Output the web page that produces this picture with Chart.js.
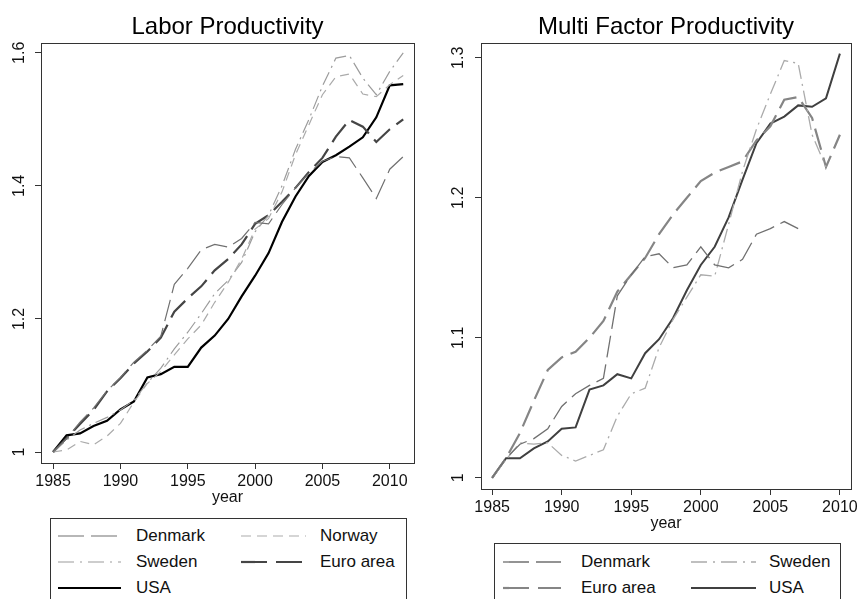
<!DOCTYPE html>
<html>
<head>
<meta charset="utf-8">
<script src="https://cdn.jsdelivr.net/npm/chart.js@4"></script>
<style>
  body { margin: 0; width: 861px; height: 599px; overflow: hidden; background: #fff; font-family: "Liberation Sans", Arial, sans-serif; }
  .wrap { position: absolute; top: 0; }
  .legend { position: absolute; border: 1px solid #333; height: 120px; background: #fff; }
  .item { position: absolute; height: 20px; }
  .item svg { position: absolute; top: 0; }
  .item span { position: absolute; top: 0; line-height: 20px; font-size: 17px; color: #111; white-space: nowrap; }
</style>
</head>
<body>
<div class="wrap" style="left:0;width:430px;height:512px;"><canvas id="labor" width="430" height="512"></canvas></div>
<div class="wrap" style="left:430px;width:431px;height:538px;"><canvas id="mfp" width="431" height="538"></canvas></div>
<div class="legend" id="legend-labor" style="left:50px;top:518px;width:355px;"></div>
<div class="legend" id="legend-mfp" style="left:494px;top:543px;width:345px;"></div>
<script>
// ---- data ----
const yearsLabor = [1985, 1986, 1987, 1988, 1989, 1990, 1991, 1992, 1993, 1994, 1995, 1996, 1997, 1998,
    1999, 2000, 2001, 2002, 2003, 2004, 2005, 2006, 2007, 2008, 2009, 2010, 2011];
const laborDenmark = [1.000, 1.020, 1.045, 1.066, 1.092, 1.112, 1.135, 1.153, 1.174, 1.252, 1.276, 1.304, 1.312, 1.308,
    1.321, 1.345, 1.343, 1.372, 1.397, 1.419, 1.437, 1.444, 1.442, 1.412, 1.381, 1.425, 1.444];
const laborNorway = [1.000, 1.003, 1.016, 1.011, 1.024, 1.043, 1.075, 1.103, 1.121, 1.146, 1.170, 1.191, 1.225, 1.255,
    1.290, 1.335, 1.351, 1.391, 1.447, 1.492, 1.537, 1.564, 1.568, 1.538, 1.534, 1.552, 1.566];
const laborSweden = [1.000, 1.018, 1.033, 1.043, 1.052, 1.063, 1.078, 1.104, 1.126, 1.155, 1.180, 1.208, 1.238, 1.258,
    1.285, 1.331, 1.356, 1.400, 1.455, 1.500, 1.550, 1.592, 1.596, 1.562, 1.537, 1.572, 1.600];
const laborEuro = [1.000, 1.021, 1.042, 1.063, 1.091, 1.111, 1.133, 1.151, 1.172, 1.211, 1.231, 1.249, 1.273, 1.290,
    1.312, 1.343, 1.356, 1.376, 1.397, 1.421, 1.442, 1.474, 1.499, 1.489, 1.466, 1.485, 1.500];
const laborUSA = [1.000, 1.025, 1.028, 1.039, 1.047, 1.064, 1.076, 1.112, 1.117, 1.128, 1.128, 1.157, 1.175, 1.200,
    1.234, 1.265, 1.299, 1.346, 1.384, 1.415, 1.436, 1.446, 1.459, 1.473, 1.503, 1.551, 1.553];

const yearsMfp = [1985, 1986, 1987, 1988, 1989, 1990, 1991, 1992, 1993, 1994, 1995, 1996, 1997, 1998,
    1999, 2000, 2001, 2002, 2003, 2004, 2005, 2006, 2007, 2008, 2009, 2010];
const mfpDenmark = [1.000, 1.014, 1.024, 1.028, 1.035, 1.051, 1.060, 1.066, 1.071, 1.130, 1.145, 1.158, 1.160, 1.150,
    1.152, 1.165, 1.152, 1.150, 1.156, 1.174, 1.178, 1.183, 1.178, null, null, null];
const mfpSweden = [1.000, 1.013, 1.025, 1.024, 1.025, 1.016, 1.012, 1.016, 1.020, 1.044, 1.060, 1.064, 1.093, 1.113,
    1.129, 1.145, 1.144, 1.181, 1.219, 1.249, 1.274, 1.298, 1.296, 1.245, 1.222, null];
const mfpEuro = [1.000, 1.014, 1.032, 1.055, 1.077, 1.086, 1.090, 1.100, 1.112, 1.133, 1.145, 1.157, 1.174, 1.188,
    1.200, 1.212, 1.218, 1.222, 1.226, 1.241, 1.251, 1.270, 1.272, 1.257, 1.222, 1.245];
const mfpUSA = [1.000, 1.014, 1.014, 1.021, 1.026, 1.035, 1.036, 1.063, 1.066, 1.074, 1.071, 1.089, 1.099, 1.114,
    1.134, 1.152, 1.165, 1.186, 1.213, 1.239, 1.253, 1.258, 1.266, 1.265, 1.271, 1.303];

const xTickYears = [1985, 1990, 1995, 2000, 2005, 2010];
const laborYTicks = [1, 1.2, 1.4, 1.6];
const mfpYTicks = [1, 1.1, 1.2, 1.3];

Chart.defaults.font.family = '"Liberation Sans", Arial, sans-serif';
Chart.defaults.color = '#111';

// box round the plot region, Stata style
const plotBox = {
    id: 'plotBox',
    afterDraw(chart) {
        const a = chart.chartArea;
        const ctx = chart.ctx;
        ctx.save();
        ctx.strokeStyle = '#333';
        ctx.lineWidth = 1;
        ctx.strokeRect(Math.round(a.left) + 0.5, Math.round(a.top) + 0.5,
            Math.round(a.right - a.left), Math.round(a.bottom - a.top));
        ctx.restore();
    }
};

function points(years, values) {
    return years.map((yr, i) => ({ x: yr, y: values[i] }));
}

function line(label, years, values, color, width, dash) {
    return {
        label,
        data: points(years, values),
        borderColor: color,
        borderWidth: width,
        borderDash: dash,
        pointRadius: 0,
        tension: 0,
        spanGaps: false,
        fill: false,
    };
}

function makeChart(id, title, datasets, opts) {
    return new Chart(document.getElementById(id), {
        type: 'line',
        data: { datasets },
        plugins: [plotBox],
        options: {
            responsive: false,
            animation: false,
            devicePixelRatio: 1,
            layout: { padding: { left: 0, right: opts.rightPad, top: 0, bottom: 0 } },
            plugins: {
                legend: { display: false },
                tooltip: { enabled: false },
                title: {
                    display: true,
                    text: title,
                    fullSize: false,
                    color: '#000',
                    font: { size: 24, weight: 'normal' },
                    padding: { top: 13, bottom: 1 },
                },
            },
            scales: {
                x: {
                    type: 'linear',
                    min: opts.xMin,
                    max: opts.xMax,
                    afterBuildTicks: (scale) => { scale.ticks = xTickYears.map((v) => ({ value: v })); },
                    afterFit: (scale) => { scale.height = 49; },
                    border: { display: false },
                    grid: { drawOnChartArea: false, drawTicks: true, tickLength: 6, color: '#333' },
                    ticks: { font: { size: 16 }, color: '#111', padding: 3, maxRotation: 0, callback: (v) => String(v) },
                    title: { display: true, text: 'year', font: { size: 16 }, color: '#111', padding: { top: 0, bottom: 5 } },
                },
                y: {
                    type: 'linear',
                    min: opts.yMin,
                    max: opts.yMax,
                    afterBuildTicks: (scale) => { scale.ticks = opts.yTicks.map((v) => ({ value: v })); },
                    afterFit: (scale) => { scale.width = opts.yWidth; },
                    border: { display: false },
                    grid: { drawOnChartArea: false, drawTicks: true, tickLength: 6, color: '#333' },
                    ticks: {
                        font: { size: 16 }, color: '#111', padding: opts.yPad,
                        minRotation: 90, maxRotation: 90, crossAlign: 'center',
                        callback: (v) => String(v),
                    },
                },
            },
        },
    });
}

makeChart('labor', 'Labor Productivity', [
    line('Denmark', yearsLabor, laborDenmark, '#707070', 1.2, [22, 7]),
    line('Norway', yearsLabor, laborNorway, '#ababab', 1.2, [9, 6]),
    line('Sweden', yearsLabor, laborSweden, '#9c9c9c', 1.2, [14, 5, 2, 5]),
    line('Euro area', yearsLabor, laborEuro, '#454545', 2.2, [22, 8]),
    line('USA', yearsLabor, laborUSA, '#000000', 2.2, []),
], { rightPad: 16, xMin: 1984.1, xMax: 2011.8, yMin: 0.9835, yMax: 1.615, yTicks: laborYTicks, yWidth: 41, yPad: 4 });

makeChart('mfp', 'Multi Factor Productivity', [
    line('Denmark', yearsMfp, mfpDenmark, '#707070', 1.3, [22, 7]),
    line('Sweden', yearsMfp, mfpSweden, '#ababab', 1.3, [14, 5, 2, 5]),
    line('Euro area', yearsMfp, mfpEuro, '#858585', 2.2, [22, 8]),
    line('USA', yearsMfp, mfpUSA, '#404040', 2.0, []),
], { rightPad: 8, xMin: 1984.2, xMax: 2010.8, yMin: 0.992, yMax: 1.3107, yTicks: mfpYTicks, yWidth: 51, yPad: 5 });

// legends (HTML, boxed like the original)
function legendItem(box, name, color, width, dash, lineX, lineW, textX, top) {
    const item = document.createElement('div');
    item.className = 'item';
    item.style.left = '0px';
    item.style.top = top + 'px';
    const dashAttr = dash.length ? ` stroke-dasharray="${dash.join(' ')}"` : '';
    item.innerHTML =
        `<svg width="${lineW}" height="20" style="left:${lineX}px"><line x1="0" y1="10" x2="${lineW}" y2="10" stroke="${color}" stroke-width="${width}"${dashAttr}/></svg>` +
        `<span style="left:${textX}px">${name}</span>`;
    box.appendChild(item);
}

const legLabor = document.getElementById('legend-labor');
legendItem(legLabor, 'Denmark', '#707070', 1.2, [26, 7], 7, 63, 85, 7);
legendItem(legLabor, 'Norway', '#ababab', 1.2, [10, 6], 190, 65, 269, 7);
legendItem(legLabor, 'Sweden', '#9c9c9c', 1.2, [16, 6, 2, 6], 7, 63, 85, 33);
legendItem(legLabor, 'Euro area', '#454545', 2.2, [26, 9], 190, 65, 269, 33);
legendItem(legLabor, 'USA', '#000000', 2.2, [], 7, 63, 85, 59);

const legMfp = document.getElementById('legend-mfp');
legendItem(legMfp, 'Denmark', '#707070', 1.3, [26, 7], 8, 58, 86, 8);
legendItem(legMfp, 'Sweden', '#ababab', 1.3, [16, 6, 2, 6], 196, 65, 274, 8);
legendItem(legMfp, 'Euro area', '#858585', 2.2, [26, 9], 8, 58, 86, 34);
legendItem(legMfp, 'USA', '#404040', 2.0, [], 196, 65, 274, 34);
</script>
</body>
</html>
